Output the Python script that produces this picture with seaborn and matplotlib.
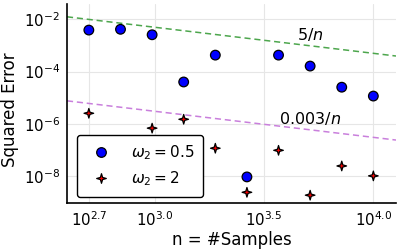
import numpy as np
import pandas as pd
import matplotlib
matplotlib.use("Agg")
import matplotlib.pyplot as plt
from matplotlib.path import Path
import seaborn as sns

# sample sizes (log-spaced 10^2.7 .. 10^4)
n_samples = [501, 699, 975, 1359, 1896, 2644, 3687, 5142, 7171, 10000]

# squared error (log10 values)
log_err_w05 = [-2.41, -2.38, -2.59, -4.40, -3.37, -8.04, -3.37, -3.79, -4.60, -4.94]
log_err_w2 = [-5.60, -7.30, -6.17, -5.83, -6.94, -8.63, -7.02, -8.74, -7.62, -8.00]

x_ticks = [10 ** 2.7, 10 ** 3.0, 10 ** 3.5, 10 ** 4.0]
x_tick_labels = [r"$10^{2.7}$", r"$10^{3.0}$", r"$10^{3.5}$", r"$10^{4.0}$"]

ref_consts = [5, 0.003]
ref_labels = [r"$5/n$", r"$0.003/n$"]

x_lim = (10 ** 2.6, 10 ** 4.1035)
y_lim = (10 ** -9.04, 10 ** -1.41)

lab_a = r"$\omega_2 = 0.5$"
lab_b = r"$\omega_2 = 2$"

df = pd.DataFrame({
    "n": n_samples * 2,
    "err": list(10 ** np.array(log_err_w05)) + list(10 ** np.array(log_err_w2)),
    "omega": [lab_a] * 10 + [lab_b] * 10,
})

sns.set_theme(style="white")
plt.rcParams["font.family"] = ["DejaVu Sans"]
plt.rcParams["mathtext.fontset"] = "dejavusans"
plt.rcParams["text.color"] = "black"
plt.rcParams["axes.labelcolor"] = "black"
plt.rcParams["xtick.color"] = "black"
plt.rcParams["ytick.color"] = "black"

# thin 4-point star like Julia's :star4
ang = np.deg2rad(np.arange(0, 360, 45) + 90)
rad = np.array([1, 0.32] * 4)
verts = np.column_stack([rad * np.cos(ang), rad * np.sin(ang)])
verts = np.vstack([verts, verts[:1]])
star4 = Path(verts, closed=True)

fig = plt.figure(figsize=(4, 2.5), dpi=100)
ax = fig.add_axes([0.1675, 0.188, 0.8225, 0.796])
ax.set_xscale("log")
ax.set_yscale("log")

# reference lines
x_line = np.array(x_lim)
line_colors = ["#4da64d", "#c97fdc"]
for c, col in zip(ref_consts, line_colors):
    sns.lineplot(x=x_line, y=c / x_line, ax=ax, color=col, linestyle=(0, (4, 2.5)),
                 linewidth=1.1, zorder=2)

sns.scatterplot(data=df, x="n", y="err", hue="omega", style="omega",
                markers={lab_a: "o", lab_b: star4},
                palette={lab_a: "blue", lab_b: "red"},
                s=48, edgecolor="black", linewidth=0.9, ax=ax, zorder=3)

ax.text(5142, 10 ** -2.58, ref_labels[0], ha="center", va="center", fontsize=11.5)
ax.text(5142, 10 ** -5.79, ref_labels[1], ha="center", va="center", fontsize=11.5)

ax.set_xlim(*x_lim)
ax.set_ylim(*y_lim)

ax.set_xticks(x_ticks)
ax.set_xticklabels(x_tick_labels)
ax.xaxis.set_minor_locator(matplotlib.ticker.NullLocator())

y_ticks = [10.0 ** k for k in range(-9, -1)]
ax.set_yticks(y_ticks)
ax.set_yticklabels([rf"$10^{{{k}}}$" if k % 2 == 0 else "" for k in range(-9, -1)])
ax.yaxis.set_minor_locator(matplotlib.ticker.NullLocator())

ax.grid(True, which="major", color="#e6e6e6", linewidth=0.8)
for t, lab in zip(ax.yaxis.get_major_ticks(), range(-9, -1)):
    if lab % 2 != 0:
        t.gridline.set_visible(False)

ax.tick_params(direction="inout", length=6, width=1, color="black",
               labelsize=10.8, labelcolor="black", pad=2)
for side in ["top", "right"]:
    ax.spines[side].set_visible(False)
for side in ["left", "bottom"]:
    ax.spines[side].set_color("black")
    ax.spines[side].set_linewidth(1.2)

ax.set_xlabel("n = #Samples", fontsize=12, color="black")
ax.set_ylabel("Squared Error", fontsize=12, color="black")
ax.xaxis.set_label_coords(0.5, -0.186)
ax.yaxis.set_label_coords(-0.172, 0.467)
ax.xaxis.label.set_va("center")
ax.yaxis.label.set_va("center")

leg = ax.legend(loc="upper left", bbox_to_anchor=(0.03, 0.342), borderaxespad=0,
                fontsize=11, frameon=True, fancybox=True, framealpha=1,
                edgecolor="black", title=None, handletextpad=1.0, borderpad=0.55,
                labelspacing=0.5)
leg.get_frame().set_linewidth(1.0)
for txt in leg.get_texts():
    txt.set_color("black")

fig.savefig("out.png", dpi=100)
